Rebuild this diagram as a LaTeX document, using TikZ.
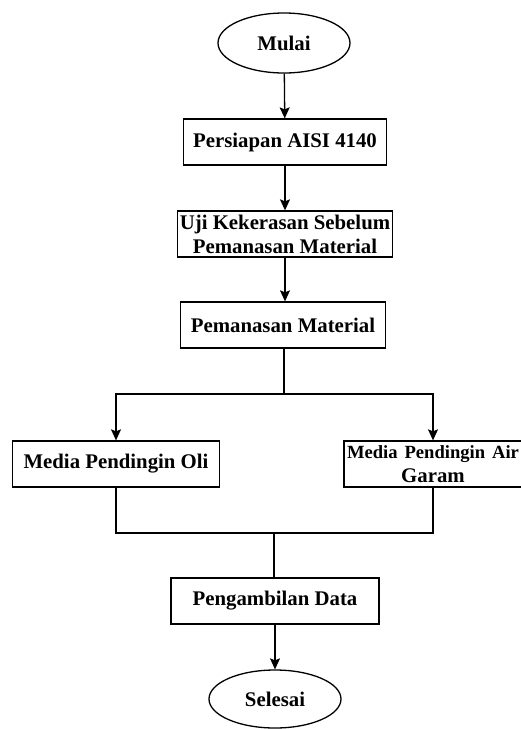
\documentclass[tikz,border=0pt]{standalone}
\usepackage{fontspec}
\setmainfont{Liberation Serif}
\usetikzlibrary{shapes.geometric,arrows.meta}

\begin{document}
\begin{tikzpicture}[x=1pt, y=-1pt, line width=1.3pt,
  >={Stealth[length=11pt,width=10pt,inset=2pt]},
  every node/.style={font=\fontsize{20.8}{24}\selectfont\bfseries, inner sep=2pt},
  terminal/.style={draw, ellipse, minimum width=132pt, minimum height=60pt},
  process/.style={draw, rectangle, minimum height=46pt, align=center}]
\useasboundingbox (0,0) rectangle (520,729);

\node[terminal] (mulai) at (284,43) {Mulai};
\node[process, minimum width=203pt] (persiapan) at (285,142) {Persiapan AISI 4140};
\node[process, minimum width=210pt] (uji) at (285,234) {Uji Kekerasan Sebelum\\Pemanasan Material};
\node[process, minimum width=205pt] (pemanasan) at (283,325) {Pemanasan Material};
\draw[->] (mulai) -- (persiapan);
\draw[->] (persiapan) -- (uji);
\draw[->] (uji) -- (pemanasan.north -| uji.south);

% cabang media pendingin
\coordinate (cabang) at (284,394);
\node[process, minimum width=207pt] (oli) at (116,464) {Media Pendingin Oli};
\node[process, text width=176pt, inner sep=1pt] (garam) at (433,464)
  {\mbox{\fontsize{18.6}{24}\selectfont Media Pendingin Air}\\Garam};
\draw (pemanasan.south -| cabang) -- (cabang);
\draw[->] (cabang) -| (oli.north);
\draw[->] (cabang) -| (garam.north);

\coordinate (gabung) at (274,533);
\node[process, minimum width=208pt] (ambil) at (275,601) {Pengambilan Data};
\node[terminal, minimum height=58pt] (selesai) at (275,699) {Selesai};
\draw (oli.south) |- (gabung);
\draw (garam.south) |- (gabung);
\draw (gabung) -- (gabung |- ambil.north);
\draw[->] (ambil) -- (selesai);
\end{tikzpicture}
\end{document}
